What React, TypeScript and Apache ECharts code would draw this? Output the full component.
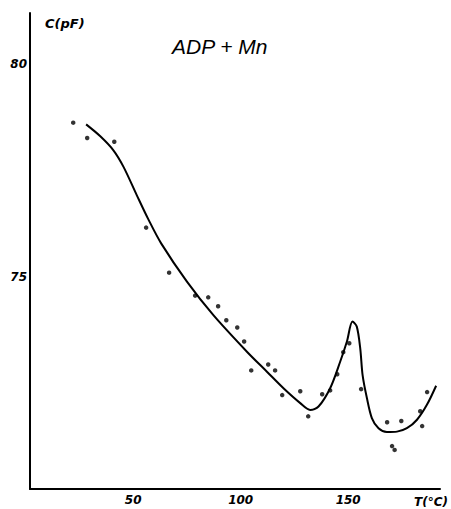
import React, { useEffect, useRef } from "react";
import * as echarts from "echarts";

// Measured points: temperature (°C) and capacitance (pF)
const pointT = [22.1, 28.6, 41.2, 56.0, 66.7, 78.8, 84.9, 89.5, 93.3, 98.4, 101.6, 104.9, 112.8, 116.0, 119.3, 127.7, 131.4, 137.9, 141.6, 144.9, 147.7, 150.5, 156.0, 168.1, 174.7, 170.4, 171.6, 183.5, 184.4, 186.7];
const pointC = [78.62, 78.26, 78.17, 76.15, 75.09, 74.55, 74.51, 74.30, 73.97, 73.80, 73.47, 72.79, 72.93, 72.79, 72.21, 72.30, 71.71, 72.23, 72.32, 72.70, 73.22, 73.43, 72.35, 71.57, 71.60, 71.01, 70.92, 71.83, 71.48, 72.28];

// Fitted curve
const curveT = [28.1, 34.7, 40.8, 45.5, 51.7, 57.0, 63.0, 75.0, 87.3, 102.9, 112.2, 119.9, 127.7, 132.3, 136.2, 141.6, 146.3, 149.4, 152.0, 154.0, 155.6, 156.7, 158.7, 161.0, 164.1, 168.0, 172.7, 177.3, 182.0, 186.6, 190.9];
const curveC = [78.58, 78.30, 77.97, 77.58, 76.91, 76.35, 75.78, 74.88, 74.09, 73.23, 72.76, 72.37, 72.02, 71.86, 71.94, 72.37, 73.00, 73.47, 73.94, 73.82, 73.31, 72.68, 72.14, 71.67, 71.43, 71.34, 71.35, 71.43, 71.63, 71.98, 72.43];

const xTicks = [50, 100, 150];
const yTicks = [75, 80];

const FONT = "'DejaVu Sans', sans-serif";
const TITLE_FONT = "'Liberation Sans', Arial, sans-serif";

export default function App() {
  const ref = useRef<HTMLDivElement>(null);
  useEffect(() => {
    if (!ref.current) return;
    const chart = echarts.init(ref.current, null, { renderer: "svg" });
    chart.setOption({
      animation: false,
      backgroundColor: "#fff",
      grid: { left: 30, right: 11, top: 13, bottom: 20, containLabel: false },
      xAxis: {
        type: "value",
        min: 2,
        max: 192.7,
        axisLine: { show: true, lineStyle: { color: "#000", width: 2 } },
        axisTick: { show: false },
        splitLine: { show: false },
        axisLabel: {
          customValues: xTicks,
          color: "#000",
          fontFamily: FONT,
          fontStyle: "italic",
          fontWeight: "bold",
          fontSize: 12,
          margin: 5,
        },
      },
      yAxis: {
        type: "value",
        min: 70,
        max: 81.2,
        axisLine: { show: true, lineStyle: { color: "#000", width: 2 } },
        axisTick: { show: false },
        splitLine: { show: false },
        axisLabel: {
          customValues: yTicks,
          color: "#000",
          fontFamily: FONT,
          fontStyle: "italic",
          fontWeight: "bold",
          fontSize: 12,
          margin: 3,
        },
      },
      graphic: [
        {
          type: "text",
          left: 45,
          top: 17,
          style: { text: "C(pF)", fill: "#000", font: `italic bold 13px ${FONT}` },
        },
        {
          type: "text",
          left: 172,
          top: 36,
          style: { text: "ADP + Mn", fill: "#000", font: `italic 21px ${TITLE_FONT}` },
        },
        {
          type: "text",
          left: 414,
          top: 496,
          style: { text: "T(°C)", fill: "#000", font: `italic bold 12px ${FONT}` },
        },
      ],
      series: [
        {
          type: "line",
          data: curveT.map((t, i) => [t, curveC[i]]),
          smooth: 0.3,
          showSymbol: false,
          lineStyle: { color: "#000", width: 2 },
        },
        {
          type: "scatter",
          data: pointT.map((t, i) => [t, pointC[i]]),
          symbol: "circle",
          symbolSize: 4.5,
          itemStyle: { color: "#000" },
        },
      ],
    });
    return () => chart.dispose();
  }, []);
  return <div ref={ref} style={{ width: 451, height: 509, position: "absolute", left: 0, top: 0 }} />;
}
